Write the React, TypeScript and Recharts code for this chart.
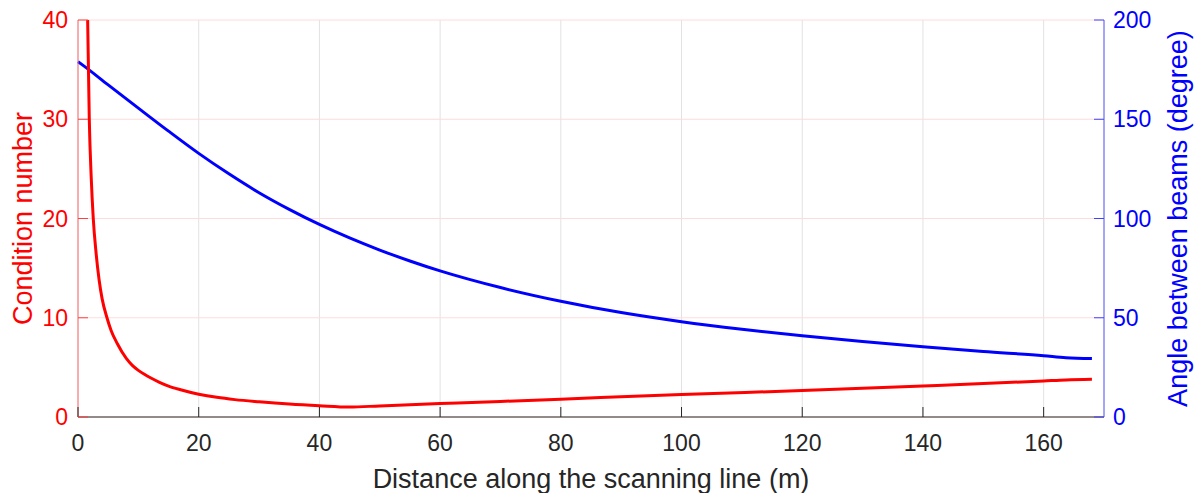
import React from 'react';
import { LineChart, Line, XAxis, YAxis, CartesianGrid } from 'recharts';

// condition number (left axis)
const condX = [1.5, 1.6, 1.87, 2.2, 2.53, 3, 3.5, 4, 4.8, 5.5, 6.5, 8, 9, 10, 11, 12, 13.5, 15, 17, 20, 23, 26, 30, 35, 40, 45, 50, 60, 70, 80, 100, 120, 140, 160, 163.7, 168];
const condVals = [46, 40, 30, 24, 20, 16.5, 13.8, 11.9, 10, 8.7, 7.4, 5.9, 5.2, 4.7, 4.3, 3.95, 3.5, 3.12, 2.75, 2.3, 1.98, 1.75, 1.53, 1.3, 1.13, 1.0, 1.12, 1.35, 1.57, 1.8, 2.26, 2.66, 3.12, 3.63, 3.74, 3.8];

// angle between beams (right axis)
const angleX = [0, 0.9, 5, 10, 15, 20, 25, 30, 35, 40, 45, 50, 55, 60, 70, 80, 90, 100, 110, 120, 130, 140, 150, 160, 163.7, 168];
const angleVals = [179, 177, 167.3, 155.6, 144, 132.8, 122.5, 113, 104.6, 97, 90.2, 84.1, 78.6, 73.6, 65.2, 58.3, 52.6, 48, 44.2, 40.9, 38, 35.4, 33, 30.9, 29.9, 29.5];

const xTicks = [0, 20, 40, 60, 80, 100, 120, 140, 160];
const leftTicks = [0, 10, 20, 30, 40];
const rightTicks = [0, 50, 100, 150, 200];

const condData = condX.map((x, i) => ({ x, cond: condVals[i] }));
const angleData = angleX.map((x, i) => ({ x, angle: angleVals[i] }));

const FONT = '"Liberation Sans", Arial, sans-serif';
const TICK_LEN = 10;
const X_MARGIN = 18;
const L_MARGIN = 10;
const R_MARGIN = 9;

const BottomTick = (p: any) => (
  <g>
    <line x1={p.x} x2={p.x} y1={p.y - X_MARGIN} y2={p.y - X_MARGIN - TICK_LEN} stroke="#262626" strokeWidth={1} />
    <text x={p.x} y={p.y} dy="0.71em" textAnchor="middle" fill="#262626" fontSize={23} fontFamily={FONT}>
      {p.payload.value}
    </text>
  </g>
);

const TopTick = (p: any) => (
  <line x1={p.x} x2={p.x} y1={p.y} y2={p.y + TICK_LEN} stroke="#262626" strokeWidth={1} />
);

const LeftTick = (p: any) => (
  <g>
    <line x1={p.x + L_MARGIN} x2={p.x + L_MARGIN + TICK_LEN} y1={p.y} y2={p.y} stroke="#ff4040" strokeWidth={1} />
    <text x={p.x} y={p.y} dy="0.355em" textAnchor="end" fill="#ff0000" fontSize={23} fontFamily={FONT}>
      {p.payload.value}
    </text>
  </g>
);

const RightTick = (p: any) => (
  <g>
    <line x1={p.x - R_MARGIN} x2={p.x - R_MARGIN - TICK_LEN} y1={p.y} y2={p.y} stroke="#4040ff" strokeWidth={1} />
    <text x={p.x} y={p.y} dy="0.355em" textAnchor="start" fill="#0000ff" fontSize={23} fontFamily={FONT}>
      {p.payload.value}
    </text>
  </g>
);

export default function App() {
  return (
    <div style={{ position: 'absolute', left: 0, top: 0, background: '#fff' }}>
      <LineChart width={1199} height={493} margin={{ top: 20, right: 0, bottom: 0, left: 0 }}>
        <CartesianGrid xAxisId="bottom" yAxisId="left" horizontal={false} stroke="#e2e2e2" />
        <CartesianGrid xAxisId="bottom" yAxisId="left" vertical={false} stroke="#ffdcdc" />
        <XAxis
          xAxisId="bottom"
          dataKey="x"
          type="number"
          domain={[0, 170]}
          ticks={xTicks}
          height={76}
          tickSize={0}
          tickMargin={X_MARGIN}
          tick={BottomTick}
          axisLine={{ stroke: '#262626' }}
          label={{ value: 'Distance along the scanning line (m)', position: 'center', dy: 23, fill: '#262626', fontSize: 27, fontFamily: FONT }}
        />
        <XAxis
          xAxisId="top"
          orientation="top"
          dataKey="x"
          type="number"
          domain={[0, 170]}
          ticks={xTicks}
          height={0}
          tickSize={0}
          tickMargin={0}
          tick={TopTick}
          axisLine={{ stroke: '#9a9a9a' }}
        />
        <YAxis
          yAxisId="left"
          type="number"
          domain={[0, 40]}
          ticks={leftTicks}
          allowDataOverflow
          width={78}
          tickSize={0}
          tickMargin={L_MARGIN}
          tick={LeftTick}
          axisLine={{ stroke: '#ff6a6a' }}
          label={{ value: 'Condition number', angle: -90, position: 'center', dx: -17, fill: '#ff0000', fontSize: 27, fontFamily: FONT }}
        />
        <YAxis
          yAxisId="right"
          orientation="right"
          type="number"
          domain={[0, 200]}
          ticks={rightTicks}
          width={95}
          tickSize={0}
          tickMargin={R_MARGIN}
          tick={RightTick}
          axisLine={{ stroke: '#5a5aff' }}
          label={{ value: 'Angle between beams (degree)', angle: -90, position: 'center', dx: 26, fill: '#0000ff', fontSize: 27, fontFamily: FONT }}
        />
        <Line
          xAxisId="bottom"
          yAxisId="right"
          data={angleData}
          dataKey="angle"
          type="monotone"
          stroke="#0000ff"
          strokeWidth={3}
          dot={false}
          isAnimationActive={false}
        />
        <Line
          xAxisId="bottom"
          yAxisId="left"
          data={condData}
          dataKey="cond"
          type="monotone"
          stroke="#ff0000"
          strokeWidth={3}
          dot={false}
          isAnimationActive={false}
        />
      </LineChart>
    </div>
  );
}
